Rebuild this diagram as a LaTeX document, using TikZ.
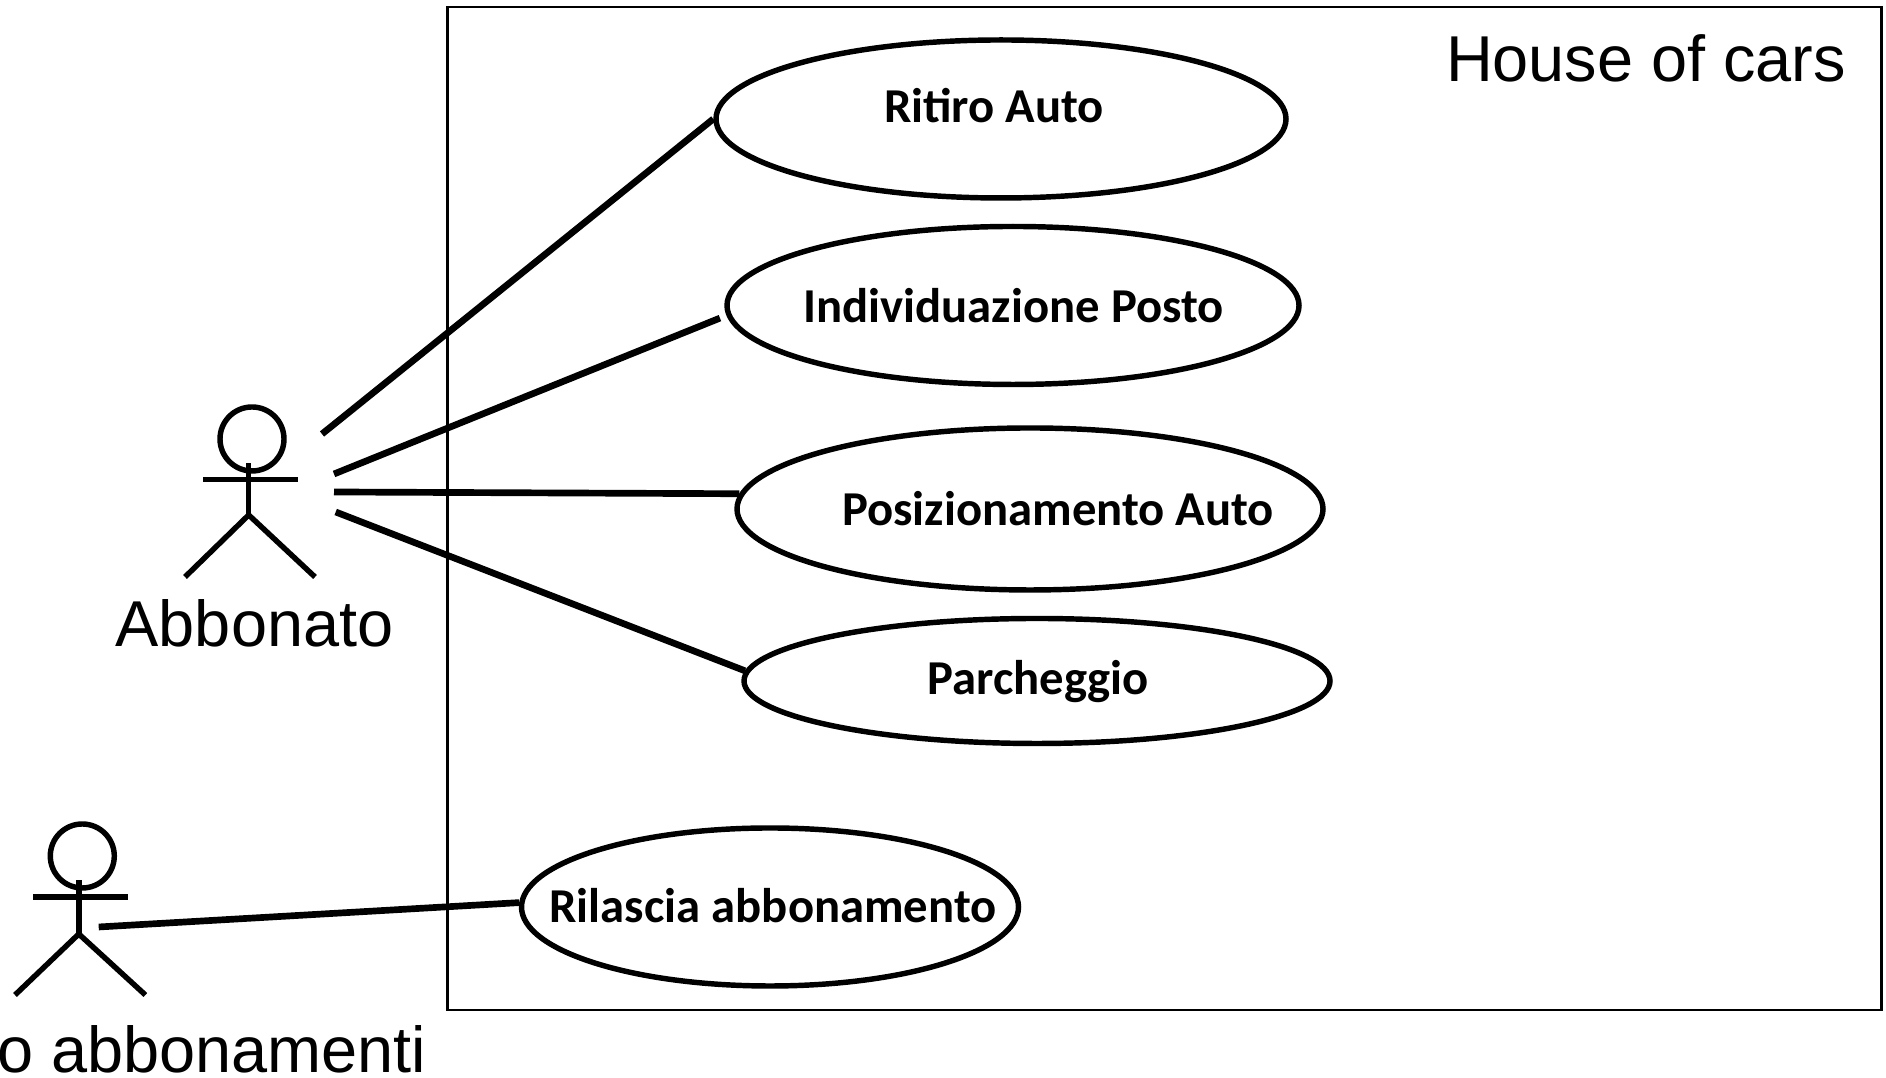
\documentclass[tikz,border=0pt]{standalone}
\usepackage{fontspec}
\setmainfont{Liberation Sans}
\newfontfamily\usecasefont{Carlito}
\usetikzlibrary{shapes.geometric}

\tikzset{
	usecase/.style={draw, ellipse, line width=1.55pt, inner sep=0pt},
	usecasetext/.style={font=\usecasefont\fontsize{13.85}{16}\selectfont\bfseries, inner sep=0pt},
	bigtext/.style={font=\fontsize{18.45}{22}\selectfont, inner sep=0pt},
	stick/.style={line width=1.55pt},
	assoc/.style={line width=1.9pt}
}

\begin{document}
\begin{tikzpicture}
	\useasboundingbox (0,0) rectangle (18.86,10.78);
	
	\draw[line width=0.6pt] (4.475,0.68) rectangle (18.815,10.71);
	\node[bigtext] (system) at (16.46,10.20) {House of cars};
	
	\node[usecase, minimum width=5.70cm, minimum height=1.58cm] (ritiro) at (10.01,9.59) {};
	\node[usecase, minimum width=5.72cm, minimum height=1.58cm] (individuazione) at (10.13,7.725) {};
	\node[usecase, minimum width=5.86cm, minimum height=1.62cm] (posizionamento) at (10.30,5.69) {};
	\node[usecase, minimum width=5.86cm, minimum height=1.25cm] (parcheggio) at (10.37,3.97) {};
	\node[usecase, minimum width=4.97cm, minimum height=1.58cm] (rilascia) at (7.70,1.71) {};
	
	\node[usecasetext] (ritirotext) at (9.94,9.72) {Ritiro Auto};
	\node[usecasetext] (individuazionetext) at (10.135,7.72) {Individuazione Posto};
	\node[usecasetext] (posizionamentotext) at (10.58,5.69) {Posizionamento Auto};
	\node[usecasetext] (parcheggiotext) at (10.385,3.96) {Parcheggio};
	\node[usecasetext] (rilasciatext) at (7.73,1.72) {Rilascia abbonamento};
	
	% abbonato
	\draw[stick] (2.52,6.39) circle[radius=0.32];
	\draw[stick] (2.487,6.15) -- (2.487,5.63);
	\draw[stick] (2.03,5.985) -- (2.98,5.985);
	\draw[stick] (1.85,5.01) -- (2.487,5.63) -- (3.15,5.01);
	\node[bigtext] (abbonato) at (2.545,4.55) {Abbonato};
	
	% addetto
	\draw[stick] (0.823,2.22) circle[radius=0.32];
	\draw[stick] (0.788,1.98) -- (0.788,1.44);
	\draw[stick] (0.33,1.81) -- (1.28,1.81);
	\draw[stick] (0.15,0.83) -- (0.788,1.44) -- (1.454,0.83);
	\node[bigtext, anchor=base east] (addetto) at (4.27,0.05) {o abbonamenti};
	
	\coordinate (abbonatoa) at (3.22,6.44);
	\coordinate (abbonatob) at (3.34,6.04);
	\coordinate (abbonatoc) at (3.34,5.86);
	\coordinate (abbonatod) at (3.357,5.66);
	\coordinate (addettoa) at (0.987,1.51);
	
	\draw[assoc] (abbonatoa) -- (ritiro.west);
	\draw[assoc, shorten >=2pt] (abbonatob) -- (individuazione.182);
	\draw[assoc] (abbonatoc) -- (posizionamento.177.3);
	\draw[assoc] (abbonatod) -- (parcheggio.178);
	\draw[assoc] (addettoa) -- (rilascia.179.3);
	
\end{tikzpicture}
\end{document}
